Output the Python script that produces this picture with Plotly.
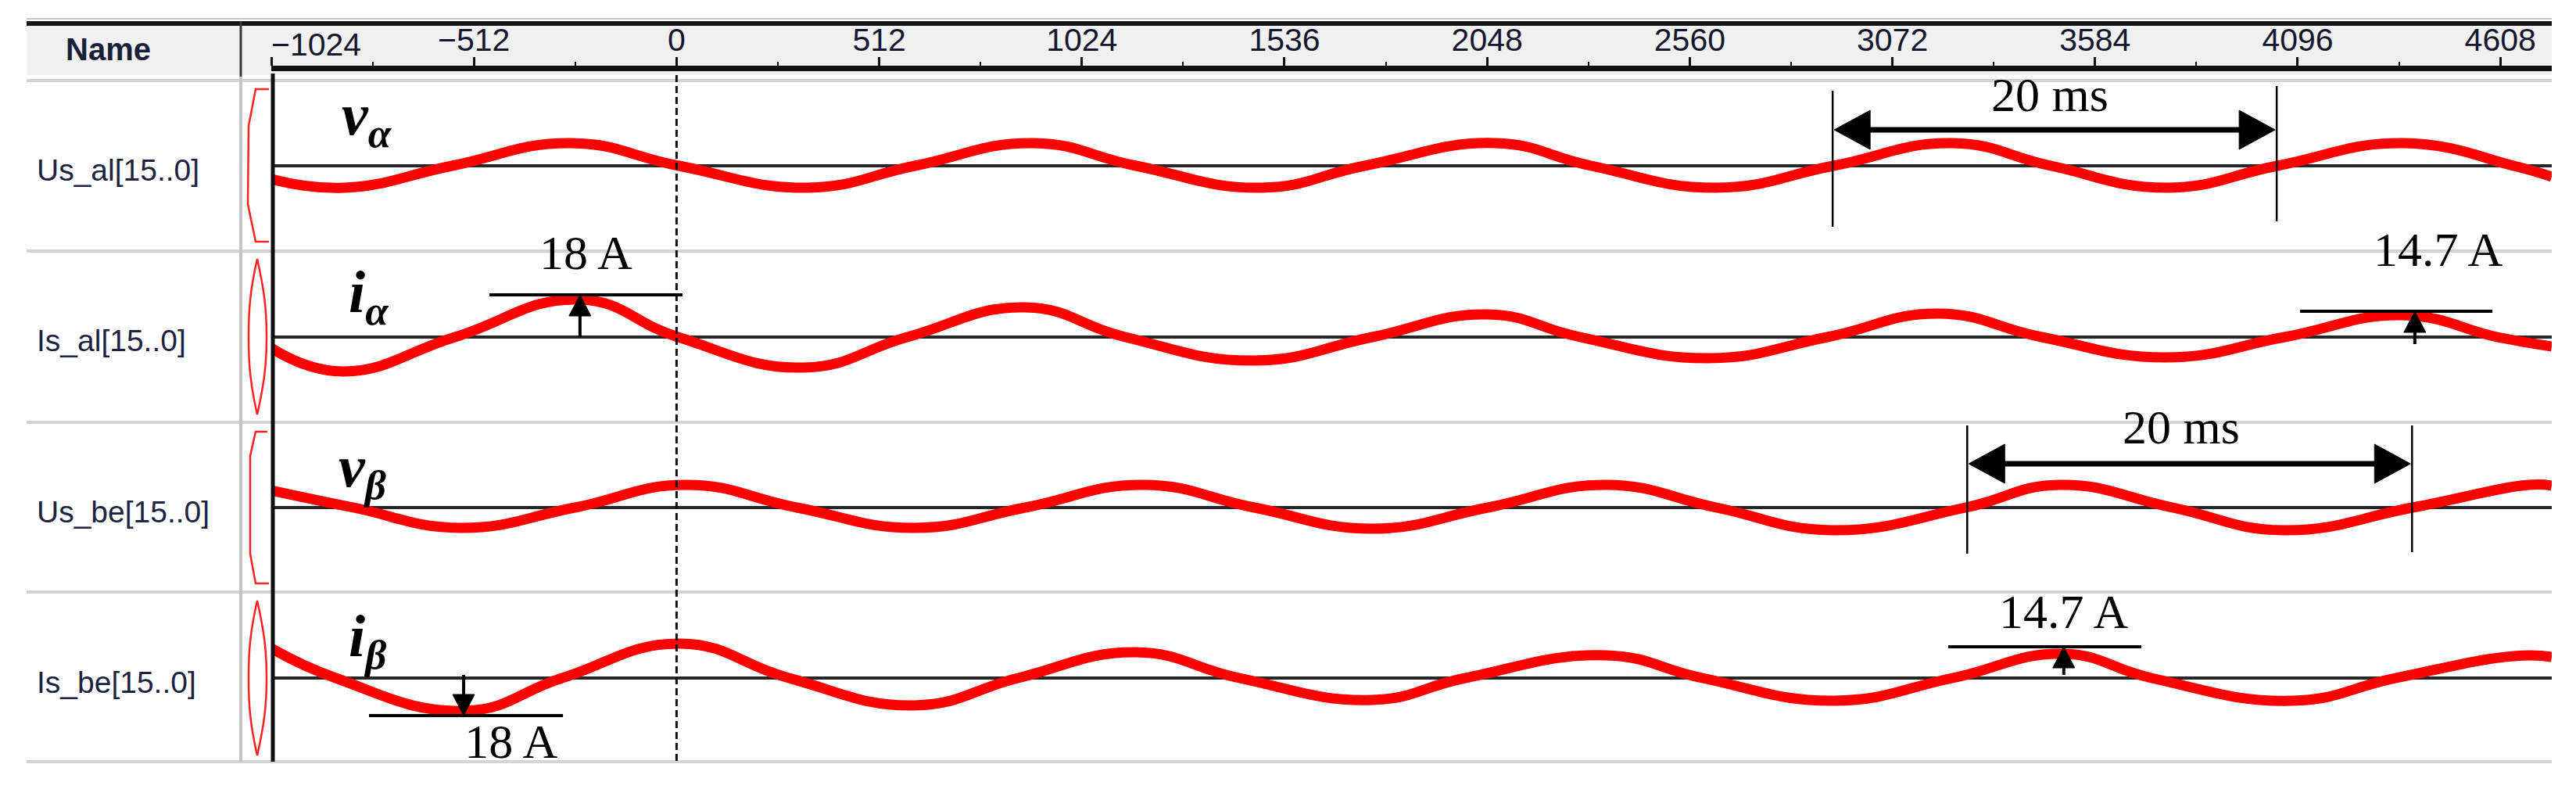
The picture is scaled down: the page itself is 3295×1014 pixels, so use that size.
import plotly.graph_objects as go

W, H = 3295, 1014

# ---------------- data ----------------
RULER_TICKS = [-1024, -512, 0, 512, 1024, 1536, 2048, 2560, 3072, 3584, 4096, 4608]
RULER_LABELS = ["−1024", "−512", "0", "512", "1024", "1536", "2048", "2560",
                "3072", "3584", "4096", "4608"]
RULER_MINOR = [-768, -256, 256, 768, 1280, 1792, 2304, 2816, 3328, 3840, 4352]
X_RANGE = [-1024, 4738]

SIGNAL_NAMES = ["Us_al[15..0]", "Is_al[15..0]", "Us_be[15..0]", "Is_be[15..0]"]
SIGNAL_SYMBOLS = ["v", "i", "v", "i"]
SIGNAL_SUBS = ["α", "α", "β", "β"]

# v_alpha (row 1)
VA_X = [-1024, -837, -567, -267, 6, 332, 602, 901, 1161, 1478, 1738, 2068, 2311,
        2627, 2923, 3224, 3473, 3765, 4045, 4362, 4642, 4738]
VA_Y = [-17, -28, 0, 29, 0, -28, 0, 29, 0, -28, 0, 29, 0,
        -28, 0, 29, 0, -28, 0, 29, 0, -14]
# i_alpha (row 2)
IA_X = [-1024, -843, -560, -245, 4, 322, 583, 881, 1134, 1460, 1758, 2050, 2283,
        2609, 2908, 3188, 3449, 3765, 4063, 4362, 4600, 4738]
IA_Y = [-14, -44, 0, 48, 0, -39, 0, 38, 0, -30, 0, 29, 0,
        -27, 0, 30, 0, -26, 0, 28, 0, -12]
# v_beta (row 3)
VB_X = [-1024, -816, -545, -257, 24, 304, 602, 881, 1179, 1460, 1758, 2050, 2349,
        2627, 2921, 3257, 3494, 3780, 4060, 4386, 4680, 4738]
VB_Y = [22, 0, -26, 0, 29, 0, -26, 0, 29, 0, -27, 0, 29,
        0, -29, 0, 29, 0, -29, 0, 29, 28]
# i_beta (row 4)
IB_X = [-1024, -861, -535, -289, 10, 284, 602, 863, 1161, 1422, 1758, 1993, 2349,
        2592, 2925, 3224, 3504, 3727, 4083, 4344, 4642, 4738]
IB_Y = [38, 0, -42, 0, 44, 0, -35, 0, 33, 0, -28, 0, 29,
        0, -29, 0, 31, 0, -29, 0, 28, 27]

SERIES = [(VA_X, VA_Y), (IA_X, IA_Y), (VB_X, VB_Y), (IB_X, IB_Y)]

# peak-value markers: (row, text, mark_x0, mark_x1, mark_y, arrow_x, arrow_from_y, text_x, text_y, clipped)
PEAK_MARKS = [
    (2, "18 A", -473, 15, 54, -244, 0, -228, 101, False),
    (2, "14.7 A", 4102, 4588, 33, 4392, -9, 4452, 105, False),
    (4, "18 A", -777, -287, -48, -538, 4, -418, -86, True),
    (4, "14.7 A", 3213, 3701, 40, 3505, 4, 3505, 78, False),
]
# period markers: (row, text, x_left, x_right, left_y_top, left_y_bot, right_y_top, right_y_bot, arrow_y, text_x, text_y)
PERIOD_MARKS = [
    (1, "20 ms", 2921, 4043, 96, -78, 102, -71, 46, 3470, 84),
    (3, "20 ms", 3261, 4385, 105, -59, 105, -57, 56, 3802, 96),
]
TEXT_YSHIFT = 7  # glyph centre vs. text box centre
# symbol label positions (x in samples, y in row units)
SYMBOL_POS = [(-850, 60), (-832, 52), (-858, 47), (-832, 48)]

# ---------------- layout geometry (pixels) ----------------
PLOT_X0, PLOT_X1 = 339, 3256
ROWS_PX = [(97, 311), (316, 530), (534, 748), (752, 966)]
HALF = 107
UPX = (X_RANGE[1] - X_RANGE[0]) / (PLOT_X1 - PLOT_X0)  # sample units per pixel

XDOM = [PLOT_X0 / W, PLOT_X1 / W]


def py(y):
    return 1 - y / H


def px(x):
    return x / W


fig = go.Figure()

for i, (xs, ys) in enumerate(SERIES):
    n = "" if i == 0 else str(i + 1)
    fig.add_trace(go.Scatter(
        x=xs, y=ys, mode="lines",
        line=dict(color="#ff0000", width=13, shape="spline", smoothing=1.3),
        xaxis="x" + n, yaxis="y" + n, hoverinfo="skip", showlegend=False))

# dummy trace for the ruler axis
fig.add_trace(go.Scatter(x=[0], y=[0.5], mode="markers", marker=dict(opacity=0),
                         xaxis="x5", yaxis="y5", hoverinfo="skip", showlegend=False))

layout = dict(
    width=W, height=H, margin=dict(l=0, r=0, t=0, b=0),
    paper_bgcolor="white", plot_bgcolor="rgba(0,0,0,0)",
    hovermode=False, showlegend=False,
)
for i, (t, b) in enumerate(ROWS_PX):
    n = "" if i == 0 else str(i + 1)
    layout["xaxis" + n] = dict(domain=XDOM, range=X_RANGE, anchor="y" + n,
                               showticklabels=False, ticks="", showgrid=False,
                               zeroline=False, showline=False, fixedrange=True)
    layout["yaxis" + n] = dict(domain=[py(b), py(t)], range=[-HALF, HALF], anchor="x" + n,
                               showticklabels=False, ticks="", showgrid=False,
                               zeroline=True, zerolinecolor="#262626", zerolinewidth=4,
                               showline=False, fixedrange=True)

TICK_FONT = dict(family="Liberation Sans, Arial", size=41, color="#15172e")
layout["xaxis5"] = dict(
    domain=XDOM, range=X_RANGE, anchor="y5", side="top",
    showline=True, linecolor="#111111", linewidth=7,
    ticks="outside", ticklen=11, tickwidth=3, tickcolor="#111111",
    tickmode="array", tickvals=RULER_TICKS, ticktext=[""] + RULER_LABELS[1:],
    tickfont=TICK_FONT,
    minor=dict(tickmode="array", tickvals=RULER_MINOR, ticks="outside",
               ticklen=5, tickwidth=2, tickcolor="#111111"),
    ticklabelstandoff=-8,
    showgrid=False, zeroline=False, fixedrange=True)
layout["yaxis5"] = dict(domain=[py(94), py(83)], range=[0, 1], visible=False,
                        anchor="x5", fixedrange=True)

shapes = []


def pline(x0, y0, x1, y1, color, width, layer="below", dash=None):
    d = dict(type="line", xref="paper", yref="paper", x0=px(x0), y0=py(y0),
             x1=px(x1), y1=py(y1), line=dict(color=color, width=width), layer=layer)
    if dash:
        d["line"]["dash"] = dash
    shapes.append(d)


def ppath(points, color, width, closed=False, fill=None, layer="above"):
    s = "M " + " L ".join(f"{px(x):.5f},{py(y):.5f}" for x, y in points)
    if closed:
        s += " Z"
    shapes.append(dict(type="path", xref="paper", yref="paper", path=s,
                       line=dict(color=color, width=width),
                       fillcolor=fill if fill else "rgba(0,0,0,0)", layer=layer))


# header background and frame lines
shapes.append(dict(type="rect", xref="paper", yref="paper", x0=px(26), x1=px(PLOT_X1),
                   y0=py(88), y1=py(25), fillcolor="#f0f0f0", line=dict(width=0), layer="below"))
pline(26, 16, PLOT_X1, 16, "#c8c8c8", 2)
pline(26, 22, PLOT_X1, 22, "#151515", 6)
for y in [95, 313, 532, 749, 966]:
    pline(26, y, PLOT_X1, y, "#d3d3d3", 4)
pline(300, 19, 300, 90, "#3a3a3a", 3)
pline(300, 90, 300, 966, "#c4c4c4", 4)
pline(341, 86, 341, 966, "#111111", 5, layer="above")

# dashed trigger line at sample 0
shapes.append(dict(type="line", xref="x", yref="paper", x0=0, x1=0, y0=py(88), y1=py(966),
                   line=dict(color="#111111", width=3, dash="9px,5px"), layer="above"))

# red overview glyphs in the narrow column
ppath([(336, 106), (319, 106), (310, 153), (309, 253), (319, 301), (336, 301)], "#ff2020", 2.5)
ppath([(334, 544), (319, 544), (312, 575), (312, 700), (319, 738), (336, 738)], "#ff2020", 2.5)
for top, bot in [(323, 522), (760, 958)]:
    mid = (top + bot) / 2
    s = (f"M {px(321):.5f},{py(top):.5f} "
         f"C {px(312):.5f},{py(top + 40):.5f} {px(310):.5f},{py(mid - 35):.5f} {px(310):.5f},{py(mid):.5f} "
         f"C {px(310):.5f},{py(mid + 35):.5f} {px(312):.5f},{py(bot - 40):.5f} {px(321):.5f},{py(bot):.5f} "
         f"C {px(330):.5f},{py(bot - 40):.5f} {px(333):.5f},{py(mid + 35):.5f} {px(333):.5f},{py(mid):.5f} "
         f"C {px(333):.5f},{py(mid - 35):.5f} {px(330):.5f},{py(top + 40):.5f} {px(321):.5f},{py(top):.5f} Z")
    shapes.append(dict(type="path", xref="paper", yref="paper", path=s,
                       line=dict(color="#ff2020", width=2.5), layer="above"))


def dline(row, x0, y0, x1, y1, width, color="#000000"):
    n = "" if row == 1 else str(row)
    shapes.append(dict(type="line", xref="x" + n, yref="y" + n, x0=x0, y0=y0, x1=x1, y1=y1,
                       line=dict(color=color, width=width), layer="above"))


def dtri(row, pts):
    n = "" if row == 1 else str(row)
    s = "M " + " L ".join(f"{x},{y}" for x, y in pts) + " Z"
    shapes.append(dict(type="path", xref="x" + n, yref="y" + n, path=s,
                       fillcolor="#000000", line=dict(color="#000000", width=1), layer="above"))


annotations = []
TEXT_FONT = dict(family="Liberation Serif, Times New Roman", size=62, color="#000000")

# peak-value markers
HEAD_W, HEAD_H = 14 * UPX, 27
for row, txt, mx0, mx1, my, ax, ay0, tx, ty, clipped in PEAK_MARKS:
    n = "" if row == 1 else str(row)
    dline(row, mx0, my, mx1, my, 4)
    sgn = 1 if my > ay0 else -1
    base = my - sgn * HEAD_H
    dline(row, ax, ay0, ax, base, 4)
    dtri(row, [(ax, my), (ax - HEAD_W, base), (ax + HEAD_W, base)])
    if clipped:
        fig.add_trace(go.Scatter(x=[tx], y=[ty], mode="text", text=[txt], textfont=TEXT_FONT,
                                 textposition="middle center", cliponaxis=True,
                                 xaxis="x" + n, yaxis="y" + n, hoverinfo="skip", showlegend=False))
    else:
        annotations.append(dict(xref="x" + n, yref="y" + n, x=tx, y=ty, text=txt,
                                showarrow=False, font=TEXT_FONT, yshift=TEXT_YSHIFT,
                                xanchor="center", yanchor="middle"))

# period markers
AH_L, AH_H = 48 * UPX, 25
for row, txt, xl, xr, lt, lb, rt, rb, ay, tx, ty in PERIOD_MARKS:
    n = "" if row == 1 else str(row)
    dline(row, xl, lt, xl, lb, 2.5)
    dline(row, xr, rt, xr, rb, 2.5)
    dline(row, xl + AH_L * 0.8, ay, xr - AH_L * 0.8, ay, 7)
    dtri(row, [(xl + 4, ay), (xl + AH_L, ay + AH_H), (xl + AH_L, ay - AH_H)])
    dtri(row, [(xr - 4, ay), (xr - AH_L, ay + AH_H), (xr - AH_L, ay - AH_H)])
    annotations.append(dict(xref="x" + n, yref="y" + n, x=tx, y=ty, text=txt,
                            showarrow=False, font=TEXT_FONT, yshift=TEXT_YSHIFT,
                            xanchor="center", yanchor="middle"))

# signal symbols
for i, ((sx, sy), sym, sub) in enumerate(zip(SYMBOL_POS, SIGNAL_SYMBOLS, SIGNAL_SUBS)):
    n = "" if i == 0 else str(i + 1)
    annotations.append(dict(xref="x" + n, yref="y" + n, x=sx, y=sy,
                            text=f"<b><i>{sym}</i><sub><i>{sub}</i></sub></b>",
                            showarrow=False,
                            font=dict(family="Liberation Serif, Times New Roman", size=76, color="#000000"),
                            xanchor="left", yanchor="middle"))

# signal names
NAME_FONT = dict(family="Liberation Sans, Arial", size=39, color="#1c2340")
for (t, b), name in zip(ROWS_PX, SIGNAL_NAMES):
    yc = (t + b) / 2 + 5
    annotations.append(dict(xref="paper", yref="paper", x=px(37), y=py(yc), text=name,
                            showarrow=False, font=NAME_FONT, xanchor="left", yanchor="middle"))

annotations.append(dict(xref="paper", yref="paper", x=px(130), y=py(55), text="<b>Name</b>",
                        showarrow=False, font=dict(family="Liberation Sans, Arial", size=40, color="#1a1f3a"),
                        xanchor="center", yanchor="middle"))
# first ruler label, left-aligned at the left edge
annotations.append(dict(xref="x", yref="paper", x=RULER_TICKS[0], y=py(49), text=RULER_LABELS[0],
                        showarrow=False, font=TICK_FONT,
                        xanchor="left", yanchor="middle", xshift=-2))

layout["shapes"] = shapes
layout["annotations"] = annotations
fig.update_layout(**layout)
fig.write_html("out.html")
